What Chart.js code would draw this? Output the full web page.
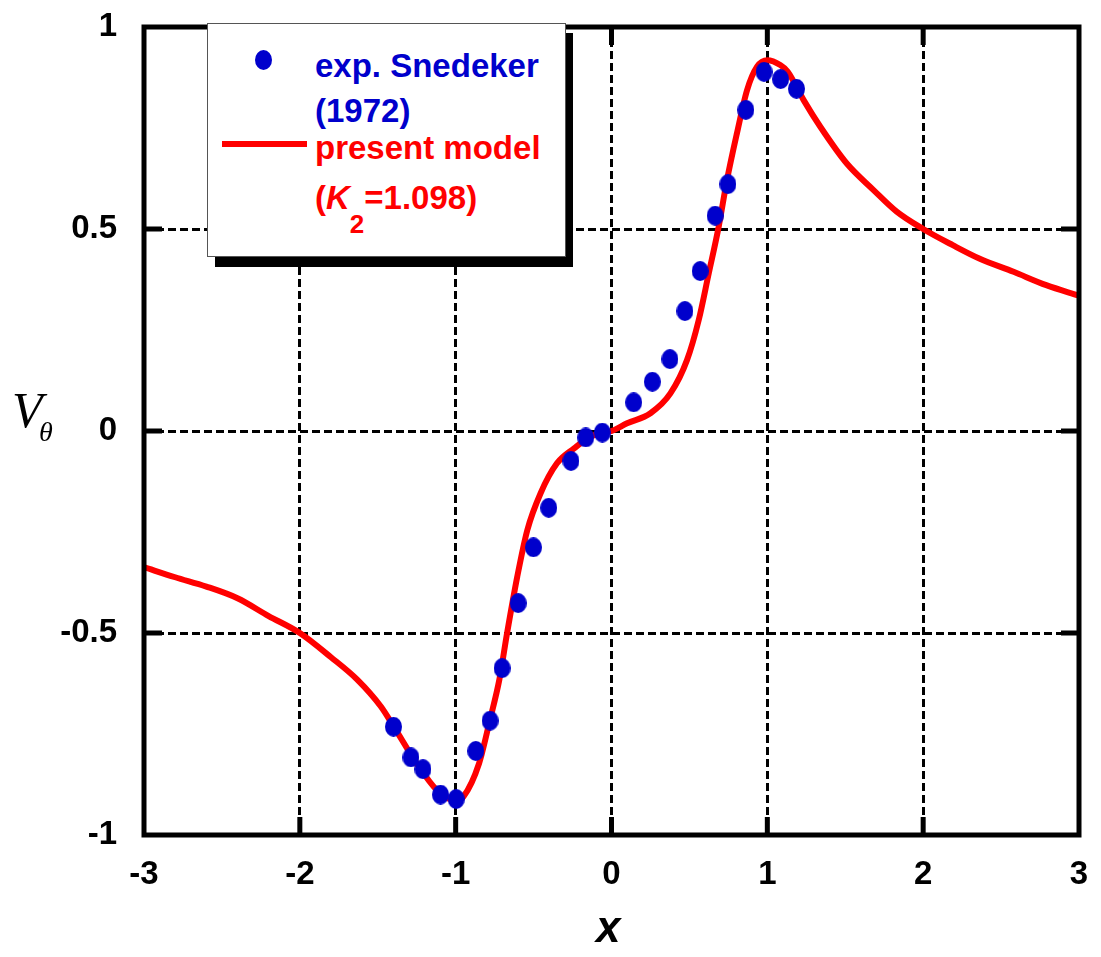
<!DOCTYPE html>
<html>
<head>
<meta charset="utf-8">
<script src="https://cdn.jsdelivr.net/npm/chart.js@4"></script>
<style>
  body { margin: 0; background: #fff; }
  #wrap { position: relative; width: 1101px; height: 957px; overflow: hidden; }
  #plot { position: absolute; left: 0; top: 0; }
  .abs { position: absolute; white-space: nowrap; }
  .lg { font: bold 33px "Liberation Sans", Arial, sans-serif; line-height: 33px; }
  .blue { color: #0000cc; }
  .red { color: #ff0000; }
</style>
</head>
<body>
<div id="wrap">
  <canvas id="plot" width="1101" height="957"></canvas>

  <!-- legend box with heavy drop shadow -->
  <div class="abs" style="left:215px; top:33px; width:358px; height:234px; background:#000;"></div>
  <div class="abs" style="left:207px; top:23px; width:357px; height:232px; background:#fff; border:1px solid #555;"></div>
  <div class="abs" style="left:255px; top:50px; width:17px; height:20px; border-radius:50%; background:#0000cc;"></div>
  <div class="abs" style="left:222px; top:141px; width:85px; height:6px; background:#ff0000;"></div>
  <div class="abs lg blue" style="left:315px; top:49px;">exp. Snedeker</div>
  <div class="abs lg blue" style="left:315px; top:94px;">(1972)</div>
  <div class="abs lg red" style="left:315px; top:131px;">present model</div>
  <div class="abs lg red" style="left:315px; top:181px;">(<i>K</i><span style="font-size:26px; position:relative; top:24px;">2</span>=1.098)</div>

  <!-- axis titles -->
  <div class="abs" style="left:12px; top:385px; font: italic 50px 'Liberation Serif', 'Times New Roman', serif; line-height:50px;">V</div>
  <div class="abs" style="left:39px; top:418px; font: italic 28px 'Liberation Serif', 'Times New Roman', serif; line-height:28px;">θ</div>
  <div class="abs" style="left:596px; top:905px; font: bold italic 44px 'Liberation Sans', Arial, sans-serif; line-height:44px;">x</div>
</div>

<script>
// Snedeker (1972) measurements
const expX = [-1.399, -1.287, -1.210, -1.097, -0.997, -0.871, -0.779, -0.702, -0.599, -0.501,
              -0.403, -0.260, -0.165, -0.059, 0.142, 0.262, 0.375, 0.471, 0.569, 0.665,
              0.747, 0.862, 0.979, 1.085, 1.187];
const expY = [-0.732, -0.808, -0.837, -0.900, -0.911, -0.792, -0.717, -0.587, -0.426, -0.288,
              -0.190, -0.074, -0.016, -0.004, 0.071, 0.122, 0.178, 0.297, 0.396, 0.533,
              0.611, 0.795, 0.889, 0.871, 0.847];

// present model, K2 = 1.098
const modelX = [-3.0, -2.8, -2.6, -2.4, -2.2, -2.0, -1.8, -1.63, -1.48, -1.4,
                -1.25, -1.12, -1.0, -0.95, -0.85, -0.78, -0.72, -0.67, -0.605, -0.54,
                -0.455, -0.35, -0.24, -0.135, 0.0, 0.1, 0.25, 0.378, 0.485, 0.56,
                0.624, 0.688, 0.741, 0.805, 0.87, 0.934, 1.0, 1.083, 1.13, 1.233,
                1.34, 1.51, 1.68, 1.83, 2.0, 2.19, 2.36, 2.58, 2.79, 3.0];
const modelY = [-0.337, -0.362, -0.385, -0.414, -0.458, -0.500, -0.560, -0.616, -0.682, -0.730,
                -0.823, -0.889, -0.915, -0.905, -0.823, -0.715, -0.616, -0.500, -0.361, -0.245,
                -0.154, -0.080, -0.043, -0.014, 0.000, 0.019, 0.044, 0.093, 0.176, 0.275,
                0.390, 0.506, 0.621, 0.737, 0.844, 0.902, 0.918, 0.906, 0.890, 0.819,
                0.753, 0.662, 0.597, 0.543, 0.500, 0.460, 0.427, 0.394, 0.361, 0.335];

const xTicks = [-3, -2, -1, 0, 1, 2, 3];
const xTickLabels = ['-3', '-2', '-1', '0', '1', '2', '3'];
const yTicks = [-1, -0.5, 0, 0.5, 1];
const yTickLabels = ['-1', '-0.5', '0', '0.5', '1'];

// slightly tall elliptical marker
function ellipseMarker(w, h, color) {
  const c = document.createElement('canvas');
  c.width = w; c.height = h;
  const g = c.getContext('2d');
  g.fillStyle = color;
  g.beginPath();
  g.ellipse(w / 2, h / 2, w / 2, h / 2, 0, 0, Math.PI * 2);
  g.fill();
  return c;
}

// closed frame with short inward ticks
const framePlugin = {
  id: 'frame',
  afterDatasetsDraw(chart) {
    const { ctx, chartArea: a, scales } = chart;
    const len = 18;
    ctx.save();
    ctx.strokeStyle = '#000';
    ctx.lineWidth = 5;
    ctx.lineCap = 'butt';
    ctx.beginPath();
    xTicks.slice(1, -1).forEach(v => {
      const px = scales.x.getPixelForValue(v);
      ctx.moveTo(px, a.bottom); ctx.lineTo(px, a.bottom - len);
      ctx.moveTo(px, a.top); ctx.lineTo(px, a.top + len);
    });
    yTicks.slice(1, -1).forEach(v => {
      const py = scales.y.getPixelForValue(v);
      ctx.moveTo(a.left, py); ctx.lineTo(a.left + len, py);
      ctx.moveTo(a.right, py); ctx.lineTo(a.right - len, py);
    });
    ctx.stroke();
    ctx.lineJoin = 'miter';
    ctx.strokeRect(a.left, a.top, a.right - a.left, a.bottom - a.top);
    ctx.restore();
  }
};

const tickFont = { family: '"Liberation Sans", Arial, sans-serif', size: 33, weight: 'bold' };

new Chart(document.getElementById('plot'), {
  type: 'scatter',
  data: {
    datasets: [
      {
        label: 'exp. Snedeker (1972)',
        data: expX.map((x, i) => ({ x, y: expY[i] })),
        pointStyle: ellipseMarker(17, 20, '#0000cc'),
        backgroundColor: '#0000cc',
        borderWidth: 0,
        showLine: false
      },
      {
        label: 'present model (K2=1.098)',
        data: modelX.map((x, i) => ({ x, y: modelY[i] })),
        showLine: true,
        borderColor: '#ff0000',
        borderWidth: 6,
        pointRadius: 0,
        cubicInterpolationMode: 'monotone',
        fill: false
      }
    ]
  },
  options: {
    responsive: false,
    animation: false,
    devicePixelRatio: 1,
    layout: { padding: { top: 27, right: 22, left: 0, bottom: 0 } },
    plugins: { legend: { display: false }, tooltip: { enabled: false } },
    scales: {
      x: {
        type: 'linear',
        min: -3, max: 3,
        afterBuildTicks: s => { s.ticks = xTicks.map(v => ({ value: v })); },
        afterFit: s => { s.height = 122; s.paddingLeft = 0; s.paddingRight = 0; },
        grid: { color: '#000', lineWidth: 3, drawTicks: false },
        border: { display: false, dash: [8, 4] },
        ticks: {
          color: '#000', font: tickFont, padding: 20, maxRotation: 0, autoSkip: false,
          callback: v => xTickLabels[xTicks.indexOf(v)]
        }
      },
      y: {
        type: 'linear',
        min: -1, max: 1,
        afterBuildTicks: s => { s.ticks = yTicks.map(v => ({ value: v })); },
        afterFit: s => { s.width = 144; s.paddingTop = 0; s.paddingBottom = 0; },
        grid: { color: '#000', lineWidth: 3, drawTicks: false },
        border: { display: false, dash: [8, 4] },
        ticks: {
          color: '#000', font: tickFont, padding: 27, autoSkip: false,
          callback: v => yTickLabels[yTicks.indexOf(v)]
        }
      }
    }
  },
  plugins: [framePlugin]
});
</script>
</body>
</html>
